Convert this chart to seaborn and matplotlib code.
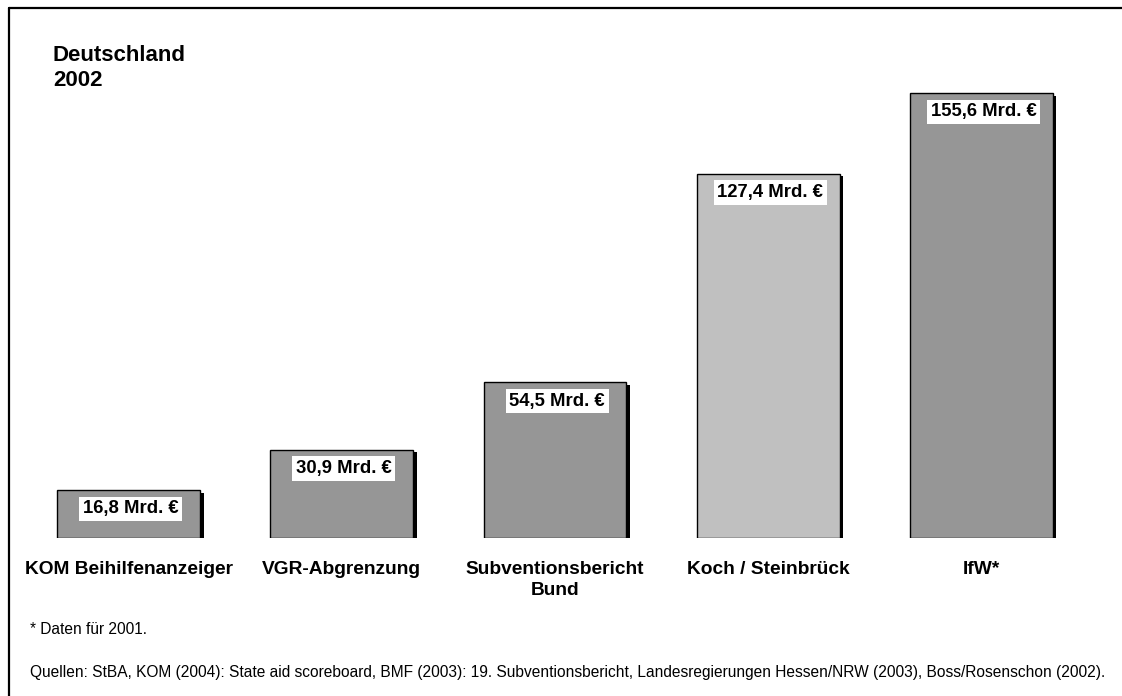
import matplotlib
matplotlib.use("Agg")
import matplotlib.pyplot as plt
import matplotlib.patheffects as pe
import seaborn as sns
import pandas as pd

categories = ["KOM Beihilfenanzeiger", "VGR-Abgrenzung", "Subventionsbericht\nBund",
              "Koch / Steinbrück", "IfW*"]
values = [16.8, 30.9, 54.5, 127.4, 155.6]
value_labels = ["16,8 Mrd. €", "30,9 Mrd. €", "54,5 Mrd. €", "127,4 Mrd. €", "155,6 Mrd. €"]
bar_colors = ["#969696", "#969696", "#969696", "#C0C0C0", "#969696"]
title_lines = ["Deutschland", "2002"]
footnote = "* Daten für 2001."
sources = ("Quellen: StBA, KOM (2004): State aid scoreboard, BMF (2003): 19. Subventionsbericht, "
           "Landesregierungen Hessen/NRW (2003), Boss/Rosenschon (2002).")

sns.set_theme(style="white")
plt.rcParams["font.family"] = ["Liberation Sans", "DejaVu Sans"]
plt.rcParams["text.color"] = "black"

df = pd.DataFrame({"cat": categories, "val": values})

W, H = 1122, 696
fig = plt.figure(figsize=(W / 100, H / 100), dpi=100)
ax = fig.add_axes([22 / W, (H - 538) / H, (1088 - 22) / W, 486.2 / H])

sns.barplot(data=df, x="cat", y="val", hue="cat", palette=bar_colors, legend=False,
            width=0.67, edgecolor="black", linewidth=1.0, saturation=1, ax=ax)
for p in ax.patches:
    p.set_path_effects([pe.SimplePatchShadow(offset=(2.6, -2.0), shadow_rgbFace="black", alpha=1.0),
                        pe.Normal()])

ax.set_xlim(-0.5, 4.5)
ax.set_ylim(0, 170)
for s in ax.spines.values():
    s.set_visible(False)
ax.set_yticks([])
ax.set_xlabel("")
ax.set_ylabel("")
ax.tick_params(axis="x", length=0, pad=16.5)
ax.set_xticks(range(len(categories)))
ax.set_xticklabels(categories, fontsize=13.8, fontweight="bold", color="black", linespacing=1.3)

for p, lab in zip(ax.patches, value_labels):
    ax.annotate(lab, xy=(p.get_x() + p.get_width() / 2, p.get_height()),
                xytext=(1.5, -7.5), textcoords="offset points", ha="center", va="top",
                fontsize=13.3, fontweight="bold", color="black",
                bbox=dict(boxstyle="square,pad=0.2", fc="white", ec="none"))

fig.text(53 / W, 1 - 45 / H, "\n".join(title_lines), ha="left", va="top",
         fontsize=16, fontweight="bold", linespacing=1.25, color="black")
fig.text(30 / W, 1 - 629 / H, footnote, ha="left", va="center", fontsize=11.2, color="black")
fig.text(30 / W, 1 - 673 / H, sources, ha="left", va="center", fontsize=11.2, color="black")

# frame (cut at right and bottom edges)
fig.add_artist(plt.Line2D([9 / W, 9 / W], [0, 1 - 8 / H], color="black", linewidth=1.6,
                          transform=fig.transFigure))
fig.add_artist(plt.Line2D([9 / W, 1], [1 - 8 / H, 1 - 8 / H], color="black", linewidth=1.6,
                          transform=fig.transFigure))

fig.savefig("out.png", dpi=100)
